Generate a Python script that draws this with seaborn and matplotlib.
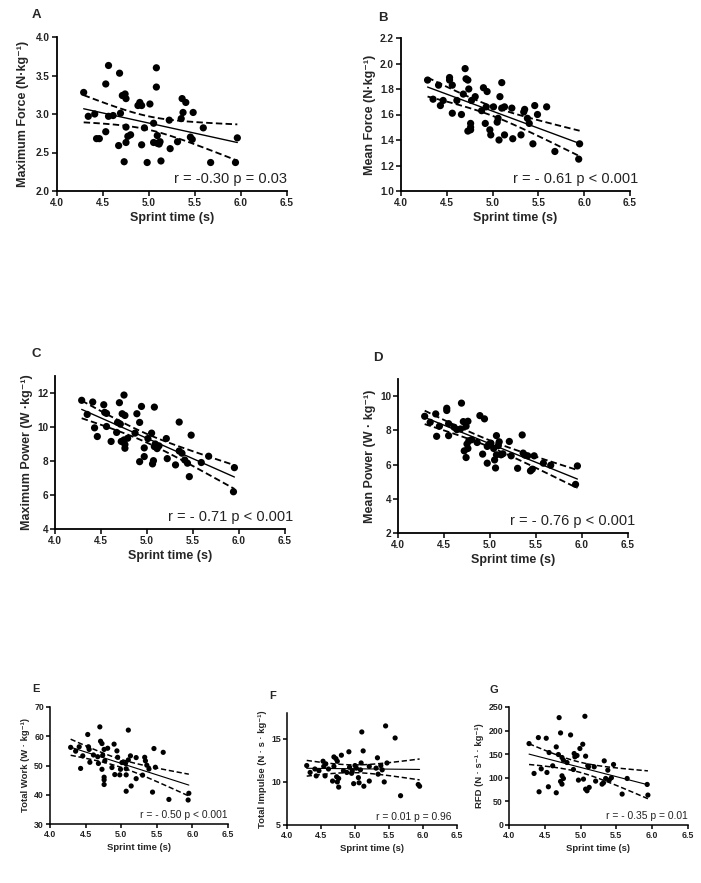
import numpy as np
import matplotlib
matplotlib.use("Agg")
import matplotlib.pyplot as plt
import seaborn as sns

# ---------------- data ----------------
a_x = [4.29, 4.34, 4.41, 4.43, 4.46, 4.53, 4.53, 4.56, 4.56, 4.61, 4.67, 4.68, 4.69, 4.71, 4.73, 4.74,
       4.75, 4.75, 4.75, 4.77, 4.80, 4.88, 4.90, 4.92, 4.92, 4.95, 4.98, 5.01, 5.05, 5.05, 5.08, 5.08,
       5.09, 5.09, 5.11, 5.12, 5.13, 5.22, 5.23, 5.31, 5.35, 5.36, 5.37, 5.40, 5.45, 5.47, 5.48, 5.59,
       5.67, 5.94, 5.96]
a_y = [3.28, 2.97, 3.00, 2.68, 2.68, 2.77, 3.39, 3.63, 2.97, 2.98, 2.59, 3.53, 3.01, 3.24, 2.38, 3.26,
       3.20, 2.63, 2.83, 2.71, 2.73, 3.11, 3.15, 3.11, 2.60, 2.82, 2.37, 3.13, 2.88, 2.63, 3.60, 3.35,
       2.72, 2.62, 2.61, 2.64, 2.39, 2.92, 2.55, 2.64, 2.94, 3.20, 3.02, 3.15, 2.70, 2.67, 3.02, 2.82,
       2.37, 2.37, 2.69]

b_x = [4.29, 4.35, 4.41, 4.43, 4.46, 4.53, 4.53, 4.56, 4.56, 4.61, 4.66, 4.68, 4.70, 4.71, 4.73, 4.73,
       4.74, 4.76, 4.76, 4.76, 4.77, 4.81, 4.88, 4.90, 4.92, 4.94, 4.93, 4.97, 4.98, 5.01, 5.05, 5.06,
       5.07, 5.08, 5.10, 5.10, 5.13, 5.13, 5.21, 5.22, 5.31, 5.34, 5.35, 5.38, 5.40, 5.44, 5.46, 5.49,
       5.59, 5.68, 5.95, 5.94]
b_y = [1.87, 1.72, 1.83, 1.67, 1.71, 1.89, 1.87, 1.83, 1.61, 1.71, 1.60, 1.76, 1.96, 1.88, 1.87, 1.47,
       1.80, 1.53, 1.50, 1.48, 1.71, 1.74, 1.63, 1.81, 1.53, 1.78, 1.66, 1.48, 1.44, 1.66, 1.54, 1.57,
       1.40, 1.74, 1.85, 1.65, 1.66, 1.44, 1.65, 1.41, 1.44, 1.62, 1.64, 1.57, 1.53, 1.37, 1.67, 1.60,
       1.66, 1.31, 1.37, 1.25]

c_x = [4.29, 4.35, 4.41, 4.43, 4.46, 4.53, 4.54, 4.56, 4.56, 4.61, 4.67, 4.68, 4.70, 4.71, 4.72, 4.73,
       4.75, 4.76, 4.75, 4.76, 4.76, 4.79, 4.87, 4.89, 4.92, 4.92, 4.94, 4.97, 4.97, 5.01, 5.05, 5.06,
       5.07, 5.08, 5.08, 5.09, 5.11, 5.13, 5.21, 5.22, 5.31, 5.35, 5.35, 5.38, 5.41, 5.44, 5.46, 5.48,
       5.59, 5.67, 5.95, 5.94]
c_y = [11.57, 10.74, 11.47, 9.95, 9.44, 11.31, 10.86, 10.80, 10.03, 9.15, 9.68, 10.27, 11.43, 10.17,
       9.15, 10.78, 11.88, 10.68, 9.24, 8.97, 8.75, 9.34, 9.64, 10.78, 10.27, 7.96, 11.21, 8.26, 8.77,
       9.32, 9.64, 7.83, 8.02, 11.17, 8.85, 9.00, 8.73, 8.89, 9.32, 8.14, 7.77, 10.29, 8.59, 8.46, 8.06,
       7.87, 7.08, 9.52, 7.91, 8.28, 7.61, 6.19]

d_x = [4.29, 4.35, 4.41, 4.42, 4.45, 4.53, 4.53, 4.55, 4.55, 4.61, 4.64, 4.68, 4.69, 4.71, 4.72, 4.74,
       4.74, 4.75, 4.76, 4.76, 4.77, 4.80, 4.86, 4.89, 4.92, 4.94, 4.97, 4.97, 4.99, 5.01, 5.04, 5.05,
       5.06, 5.07, 5.07, 5.09, 5.10, 5.12, 5.14, 5.21, 5.23, 5.30, 5.35, 5.36, 5.38, 5.41, 5.44, 5.46,
       5.48, 5.58, 5.66, 5.95, 5.93]
d_y = [8.82, 8.47, 8.96, 7.65, 8.24, 9.29, 9.16, 8.39, 7.69, 8.18, 8.04, 8.08, 9.59, 8.51, 6.80, 8.24,
       6.41, 7.20, 8.53, 6.94, 7.39, 7.45, 7.29, 8.86, 6.61, 8.67, 7.06, 6.08, 7.18, 7.25, 6.94, 6.27,
       5.80, 7.69, 6.57, 7.10, 7.33, 6.57, 6.63, 7.35, 6.51, 5.78, 7.73, 6.67, 6.55, 6.51, 5.63, 5.73,
       6.51, 6.08, 5.96, 5.92, 4.84]

e_x = [4.29, 4.36, 4.41, 4.43, 4.46, 4.53, 4.54, 4.55, 4.56, 4.61, 4.67, 4.68, 4.70, 4.71, 4.73, 4.73,
       4.74, 4.76, 4.76, 4.76, 4.76, 4.77, 4.81, 4.87, 4.90, 4.91, 4.94, 4.95, 4.98, 4.99, 5.01, 5.06,
       5.07, 5.07, 5.07, 5.10, 5.10, 5.13, 5.14, 5.21, 5.21, 5.30, 5.33, 5.34, 5.36, 5.39, 5.44, 5.46,
       5.48, 5.59, 5.67, 5.94, 5.95]
e_y = [56.2, 54.9, 56.4, 49.0, 53.3, 60.6, 56.4, 55.5, 51.1, 53.6, 53.0, 50.7, 63.2, 58.3, 57.5, 48.7,
       53.5, 55.5, 45.1, 46.0, 43.5, 51.6, 55.9, 49.3, 57.3, 46.9, 55.0, 52.8, 46.8, 48.7, 51.0, 50.7,
       48.9, 41.2, 46.8, 62.1, 51.9, 53.3, 43.0, 52.7, 45.5, 46.7, 52.8, 51.6, 50.1, 48.8, 40.9, 55.8,
       49.4, 54.5, 38.4, 38.2, 40.5]

f_x = [4.29, 4.34, 4.41, 4.43, 4.47, 4.53, 4.54, 4.56, 4.57, 4.61, 4.67, 4.69, 4.69, 4.72, 4.74, 4.73,
       4.74, 4.76, 4.76, 4.80, 4.83, 4.88, 4.91, 4.92, 4.95, 4.96, 4.98, 5.00, 5.02, 5.05, 5.06, 5.08,
       5.09, 5.10, 5.12, 5.13, 5.21, 5.21, 5.31, 5.33, 5.34, 5.38, 5.40, 5.43, 5.45, 5.47, 5.59, 5.67,
       5.93, 5.95]
f_y = [11.9, 11.1, 11.5, 10.7, 11.3, 12.4, 11.8, 10.7, 12.1, 11.5, 10.1, 11.8, 12.9, 12.7, 12.4, 10.6,
       10.0, 9.4, 10.4, 13.1, 11.3, 11.1, 13.5, 11.7, 11.0, 11.3, 9.8, 11.9, 11.6, 10.5, 9.9, 11.4,
       12.2, 15.8, 13.6, 9.5, 10.1, 11.8, 11.6, 12.8, 10.9, 11.9, 11.4, 10.0, 16.5, 12.2, 15.1, 8.4,
       9.7, 9.5]

g_x = [4.28, 4.35, 4.41, 4.42, 4.45, 4.52, 4.53, 4.55, 4.56, 4.61, 4.66, 4.66, 4.69, 4.70, 4.72, 4.72,
       4.74, 4.74, 4.74, 4.76, 4.76, 4.81, 4.86, 4.90, 4.91, 4.92, 4.95, 4.97, 4.99, 5.03, 5.04, 5.06,
       5.07, 5.07, 5.09, 5.10, 5.11, 5.12, 5.19, 5.21, 5.30, 5.32, 5.33, 5.35, 5.38, 5.40, 5.43, 5.46,
       5.58, 5.65, 5.93, 5.94]
g_y = [172.5, 109.2, 185.2, 70.4, 119.0, 183.8, 111.3, 81.0, 153.5, 125.4, 165.5, 68.3, 149.3, 227.5,
       92.3, 195.1, 86.6, 143.0, 104.2, 98.6, 137.3, 132.4, 190.8, 117.6, 151.4, 144.4, 147.2, 95.1,
       162.0, 171.1, 97.2, 230.3, 145.8, 76.0, 72.5, 125.4, 123.2, 79.6, 123.2, 93.0, 86.6, 89.4, 135.9,
       98.6, 116.2, 95.1, 100.0, 128.2, 65.5, 98.6, 85.9, 63.4]

panel_letters = ["A", "B", "C", "D", "E", "F", "G"]
y_labels = ["Maximum Force (N·kg⁻¹)", "Mean Force (N·kg⁻¹)", "Maximum Power (W ·kg⁻¹)",
            "Mean Power (W · kg⁻¹)", "Total Work (W · kg⁻¹)", "Total Impulse (N · s · kg⁻¹)",
            "RFD (N · s⁻¹ · kg⁻¹)"]
stats_text = ["r = -0.30 p = 0.03", "r = - 0.61 p < 0.001", "r = - 0.71 p < 0.001",
              "r = - 0.76 p < 0.001", "r = - 0.50 p < 0.001", "r = 0.01 p = 0.96",
              "r = - 0.35 p = 0.01"]
x_ticks = [4.0, 4.5, 5.0, 5.5, 6.0, 6.5]
y_ticks = [[2.0, 2.5, 3.0, 3.5, 4.0], [1.0, 1.2, 1.4, 1.6, 1.8, 2.0, 2.2], [4, 6, 8, 10, 12],
           [2, 4, 6, 8, 10], [30, 40, 50, 60, 70], [5, 10, 15], [0, 50, 100, 150, 200, 250]]
y_limits = [(2.0, 4.0), (1.0, 2.2), (4, 13), (2, 11), (30, 70), (5, 18), (0, 250)]
y_fmt = ["{:.1f}", "{:.1f}", "{:g}", "{:g}", "{:g}", "{:g}", "{:g}"]
xs = [a_x, b_x, c_x, d_x, e_x, f_x, g_x]
ys = [a_y, b_y, c_y, d_y, e_y, f_y, g_y]

# ---------------- layout ----------------
W, H = 701, 883
sns.set_theme(style="ticks")
plt.rcParams["font.family"] = ["Liberation Sans", "DejaVu Sans"]

fig = plt.figure(figsize=(W / 100, H / 100), dpi=100)
fig.patch.set_facecolor("white")

# axes boxes in pixels: left, top, right, bottom
boxes = [(57, 37, 287, 191), (401, 38, 630, 191), (55, 376, 285, 529), (398, 379, 628, 533),
         (50, 707, 228, 824), (287, 713, 457, 825), (509, 707, 688, 825)]
letter_pos = [(32, 9), (378, 12), (32, 348), (373, 352), (32, 684), (269, 691), (490, 685)]
stat_x = [1.0, 1.035, 1.035, 1.03, 1.0, 0.965, 1.0]
label_pad = [5, 3, 3, 3, 3, 3, 3]
big = [True, True, True, True, False, False, False]

for i in range(7):
    l, t, r, b = boxes[i]
    ax = fig.add_axes([l / W, 1 - b / H, (r - l) / W, (b - t) / H])
    x = np.array(xs[i]); y = np.array(ys[i])
    df = {"x": x, "y": y}
    ms = 27 if big[i] else 14
    fs_tick = 7.2 if big[i] else 6.3
    fs_lab = 9 if big[i] else 6.8
    fs_stat = 10.5 if big[i] else 7.4
    lw = 1.1 if big[i] else 0.9

    sns.regplot(data=df, x="x", y="y", ax=ax, ci=None, truncate=True,
                scatter_kws=dict(s=ms, color="black", edgecolors="none", alpha=1),
                line_kws=dict(color="black", lw=lw * 0.9))

    # 95% confidence band of the regression, drawn as dashed lines
    n = len(x)
    b1, b0 = np.polyfit(x, y, 1)
    resid = y - (b0 + b1 * x)
    s = np.sqrt(np.sum(resid ** 2) / (n - 2))
    xx = np.linspace(x.min(), x.max(), 100)
    se = s * np.sqrt(1 / n + (xx - x.mean()) ** 2 / np.sum((x - x.mean()) ** 2))
    yy = b0 + b1 * xx
    tval = 2.008
    ax.plot(xx, yy + tval * se, color="black", lw=lw * 1.2, ls=(0, (3.5, 1.8)))
    ax.plot(xx, yy - tval * se, color="black", lw=lw * 1.2, ls=(0, (3.5, 1.8)))

    ax.set_xlim(4.0, 6.5)
    ax.set_ylim(*y_limits[i])
    ax.set_xticks(x_ticks)
    ax.set_xticklabels([f"{v:.1f}" for v in x_ticks], fontsize=fs_tick, fontweight="bold")
    ax.set_yticks(y_ticks[i])
    ax.set_yticklabels([y_fmt[i].format(v) for v in y_ticks[i]], fontsize=fs_tick, fontweight="bold")
    ax.set_xlabel("Sprint time (s)", fontsize=fs_lab, fontweight="bold", labelpad=3)
    ax.set_ylabel(y_labels[i], fontsize=fs_lab, fontweight="bold", labelpad=label_pad[i])
    ax.set_facecolor("none")
    for sp in ("top", "right"):
        ax.spines[sp].set_visible(False)
    for sp in ("left", "bottom"):
        ax.spines[sp].set_linewidth(1.3 if big[i] else 1.1)
        ax.spines[sp].set_color("black")
    ax.tick_params(axis="both", length=3.5 if big[i] else 2.8, width=1.1, color="black",
                   pad=1.5, labelcolor="#222222")
    ax.text(stat_x[i], 0.03, stats_text[i], transform=ax.transAxes,
            ha="right", va="bottom", fontsize=fs_stat, color="#222222")

    lx, ly = letter_pos[i]
    fig.text(lx / W, 1 - ly / H, panel_letters[i], ha="left", va="top",
             fontsize=9.5 if big[i] else 8, fontweight="bold")

fig.savefig("out.png", dpi=100, facecolor="white")
